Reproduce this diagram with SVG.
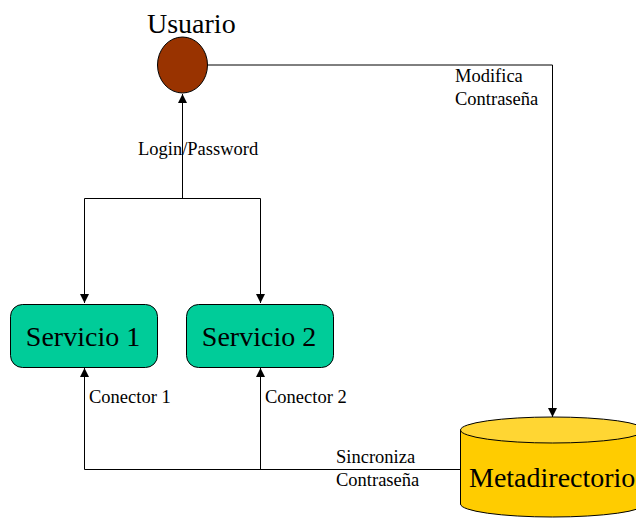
<svg xmlns="http://www.w3.org/2000/svg" width="636" height="518" viewBox="0 0 636 518">
<style>
text{font-family:"Liberation Serif","Times New Roman",serif;fill:#000}
.big{font-size:28px}
.sm{font-size:18.5px}
.ln{fill:none;stroke:#000;stroke-width:1}
</style>
<defs>
<marker id="ah" viewBox="0 0 10 10" refX="10" refY="5" markerWidth="9" markerHeight="9" markerUnits="userSpaceOnUse" orient="auto">
<path d="M0,0 L10,5 L0,10 z" fill="#000"/>
</marker>
</defs>
<rect width="636" height="518" fill="#fff"/>
<g id="connectors">
<polyline class="ln" points="208,65 552.5,65 552.5,417" marker-end="url(#ah)"/>
<line class="ln" x1="182.5" y1="198.5" x2="182.5" y2="94" marker-end="url(#ah)"/>
<polyline class="ln" points="84.5,303 84.5,198.5 260.5,198.5 260.5,303" />
<line class="ln" x1="84.5" y1="290" x2="84.5" y2="303" marker-end="url(#ah)"/>
<line class="ln" x1="260.5" y1="290" x2="260.5" y2="303" marker-end="url(#ah)"/>
<polyline class="ln" points="84.5,368 84.5,469.5 460,469.5"/>
<line class="ln" x1="84.5" y1="380" x2="84.5" y2="368" marker-end="url(#ah)"/>
<line class="ln" x1="260.5" y1="469.5" x2="260.5" y2="368" marker-end="url(#ah)"/>
<text class="sm" x="455" y="82">Modifica</text>
<text class="sm" x="455" y="105">Contraseña</text>
<text class="sm" x="138" y="155">Login/Password</text>
<text class="sm" x="89" y="403">Conector 1</text>
<text class="sm" x="265" y="403">Conector 2</text>
<text class="sm" x="336" y="463">Sincroniza</text>
<text class="sm" x="336" y="486">Contraseña</text>
</g>
<g id="usuario">
<ellipse cx="182.5" cy="65" rx="25" ry="28" fill="#993300" stroke="#000"/>
<text class="big" x="147" y="33">Usuario</text>
</g>
<g id="servicio1">
<rect x="10.5" y="304.5" width="147" height="63" rx="12" fill="#00CC99" stroke="#000"/>
<text class="big" x="83" y="346" text-anchor="middle">Servicio 1</text>
</g>
<g id="servicio2">
<rect x="186.5" y="304.5" width="147" height="63" rx="12" fill="#00CC99" stroke="#000"/>
<text class="big" x="259" y="346" text-anchor="middle">Servicio 2</text>
</g>
<g id="metadirectorio">
<path d="M460.5,430 L460.5,504 A92,13 0 0 0 644.5,504 L644.5,430" fill="#FFCC00" stroke="#000"/>
<ellipse cx="552.5" cy="430" rx="92" ry="13" fill="#FFD633" stroke="#000"/>
<text class="big" x="469" y="487">Metadirectorio</text>
</g>
</svg>
